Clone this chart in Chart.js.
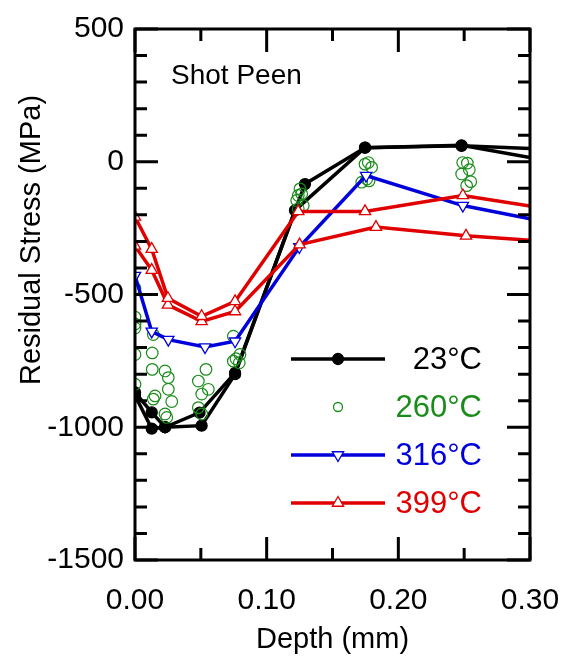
<!DOCTYPE html>
<html>
<head>
<meta charset="utf-8">
<script src="https://cdn.jsdelivr.net/npm/chart.js@4.4.1/dist/chart.umd.min.js"></script>
<style>
    html, body { margin: 0; padding: 0; background: #fff; }
    #wrap { width: 571px; height: 656px; }
</style>
</head>
<body>
<div id="wrap"><canvas id="stressChart" width="571" height="656"></canvas></div>
<script>
// ========== DATOS ==========
const xTicks = [0, 0.1, 0.2, 0.3];
const yTicks = [-1500, -1000, -500, 0, 500];

// 23°C (dos perfiles medidos)
const blackDepthA = [0, 0.0127, 0.0228, 0.049, 0.076, 0.1291, 0.1747, 0.248, 0.30];
const blackStressA = [-869, -944, -1000, -945, -795, -84, 53, 60, 50];
const blackDepthB = [0, 0.0127, 0.0228, 0.0506, 0.076, 0.1215, 0.1747, 0.248, 0.30];
const blackStressB = [-880, -1005, -1000, -994, -800, -183, 53, 62, 16];

// 260°C (solo puntos)
const greenDepth = [
    0, 0, 0, 0, 0, 0,
    0.0139, 0.0131, 0.0131, 0.0152, 0.0139,
    0.0228, 0.0253, 0.0253, 0.0279, 0.0228, 0.0241,
    0.0539, 0.0481, 0.0557, 0.0507, 0.0481, 0.0507,
    0.0747, 0.0797, 0.0747, 0.0792, 0.0767,
    0.1253, 0.124, 0.1266, 0.1228, 0.1278, 0.124,
    0.1772, 0.1797, 0.1747, 0.176, 0.1722, 0.1778,
    0.2489, 0.2524, 0.2539, 0.2481, 0.255, 0.2519,
];
const greenStress = [
    -477, -585, -611, -626, -726, -838,
    -651, -720, -782, -882, -894,
    -788, -813, -857, -903, -950, -963,
    -782, -826, -857, -875, -926, -950,
    -657, -726, -751, -757, -742,
    -102, -127, -121, -146, -165, -177,
    -3, -21, -9, -65, -77, -72,
    -3, -5, -30, -46, -75, -90,
];

// 316°C
const blueDepth = [0, 0.0127, 0.0253, 0.0532, 0.076, 0.1248, 0.1755, 0.249, 0.30];
const blueStress = [-429, -639, -670, -698, -676, -321, -52, -165, -215];

// 399°C (dos perfiles)
const redDepthA = [0, 0.0127, 0.025, 0.0506, 0.076, 0.124, 0.1747, 0.249, 0.30];
const redStressA = [-208, -329, -514, -582, -526, -187, -187, -127, -167];
const redDepthB = [0, 0.0127, 0.025, 0.0506, 0.076, 0.125, 0.183, 0.2514, 0.30];
const redStressB = [-317, -408, -539, -601, -564, -312, -246, -279, -296];

const labels = ["23°C", "260°C", "316°C", "399°C"];

// ========== ESTILO ==========
const BLACK = "#000000";
const GREEN = "#1a8c1a";
const BLUE = "#0000dc";
const RED = "#e00000";
const FONT = "'Liberation Sans', Arial, sans-serif";

function pts(xs, ys) {
    return xs.map((x, i) => ({ x: x, y: ys[i] }));
}
// sin marcador en el borde derecho (la curva sigue fuera del gráfico)
function edgeRadius(r) {
    return (c) => (c.raw && c.raw.x >= 0.3 ? 0 : r);
}

function lineSet(data, color, style, rot, fill, r, order) {
    return {
        data: data,
        showLine: true,
        borderColor: color,
        borderWidth: 3.5,
        pointStyle: style,
        rotation: rot,
        pointRadius: edgeRadius(r),
        pointBackgroundColor: fill,
        pointBorderColor: color,
        pointBorderWidth: 1.3,
        order: order,
    };
}

const datasets = [
    lineSet(pts(blackDepthA, blackStressA), BLACK, "circle", 0, BLACK, 5.5, 4),
    lineSet(pts(blackDepthB, blackStressB), BLACK, "circle", 0, BLACK, 5.5, 4),
    {
        data: pts(greenDepth, greenStress),
        showLine: false,
        pointStyle: "circle",
        pointRadius: 5.8,
        pointBackgroundColor: "rgba(0,0,0,0)",
        pointBorderColor: GREEN,
        pointBorderWidth: 1.2,
        order: 3,
    },
    lineSet(pts(blueDepth, blueStress), BLUE, "triangle", 180, "#ffffff", 6.5, 2),
    lineSet(pts(redDepthA, redStressA), RED, "triangle", 0, "#ffffff", 6.5, 1),
    lineSet(pts(redDepthB, redStressB), RED, "triangle", 0, "#ffffff", 6.5, 1),
];

// ========== MARCO, TICKS INTERIORES, TEXTOS Y LEYENDA ==========
function marker(ctx, style, x, y, r, rot, stroke, fill, lw) {
    ctx.save();
    ctx.translate(x, y);
    ctx.rotate(rot * Math.PI / 180);
    ctx.beginPath();
    if (style === "circle") {
        ctx.arc(0, 0, r, 0, Math.PI * 2);
    } else {
        for (let k = 0; k < 3; k++) {
            const a = k * 2 * Math.PI / 3;
            const px = Math.sin(a) * r;
            const py = -Math.cos(a) * r;
            if (k === 0) ctx.moveTo(px, py); else ctx.lineTo(px, py);
        }
        ctx.closePath();
    }
    if (fill) { ctx.fillStyle = fill; ctx.fill(); }
    ctx.lineWidth = lw;
    ctx.strokeStyle = stroke;
    ctx.stroke();
    ctx.restore();
}

const framePlugin = {
    id: "frame",
    afterDatasetsDraw(chart) {
        const ctx = chart.ctx;
        const a = chart.chartArea;
        const xs = chart.scales.x;
        const ys = chart.scales.y;
        ctx.save();
        ctx.strokeStyle = "#000";
        ctx.lineWidth = 3;
        ctx.strokeRect(a.left, a.top, a.right - a.left, a.bottom - a.top);
        ctx.beginPath();
        for (let v = -1500; v <= 500; v += 100) {
            const len = v % 500 === 0 ? 23 : 12;
            const py = ys.getPixelForValue(v);
            ctx.moveTo(a.left, py); ctx.lineTo(a.left + len, py);
            ctx.moveTo(a.right, py); ctx.lineTo(a.right - len, py);
        }
        for (let i = 0; i <= 6; i++) {
            const len = i % 2 === 0 ? 23 : 12;
            const px = xs.getPixelForValue(i * 0.05);
            ctx.moveTo(px, a.bottom); ctx.lineTo(px, a.bottom - len);
            ctx.moveTo(px, a.top); ctx.lineTo(px, a.top + len);
        }
        ctx.stroke();
        ctx.restore();
    },
    afterDraw(chart) {
        const ctx = chart.ctx;
        const a = chart.chartArea;
        ctx.save();
        ctx.fillStyle = "#000";
        ctx.font = "28px " + FONT;
        ctx.textBaseline = "alphabetic";
        ctx.textAlign = "left";
        ctx.fillText("Shot Peen", 171, 84);

        // títulos de ejes
        ctx.font = "29px " + FONT;
        ctx.textAlign = "center";
        ctx.fillText("Depth (mm)", (a.left + a.right) / 2, 648);
        ctx.save();
        ctx.translate(40, 240);
        ctx.rotate(-Math.PI / 2);
        ctx.fillText("Residual Stress (MPa)", 0, 0);
        ctx.restore();

        // leyenda
        const rows = [
            { y: 359, c: BLACK, line: true, s: "circle", rot: 0, f: BLACK, r: 5.5 },
            { y: 407, c: GREEN, line: false, s: "circle", rot: 0, f: null, r: 4.5 },
            { y: 455, c: BLUE, line: true, s: "triangle", rot: 180, f: "#fff", r: 6.5 },
            { y: 503, c: RED, line: true, s: "triangle", rot: 0, f: "#fff", r: 6.5 },
        ];
        ctx.font = "31px " + FONT;
        ctx.textAlign = "right";
        ctx.textBaseline = "middle";
        rows.forEach((row, i) => {
            if (row.line) {
                ctx.beginPath();
                ctx.strokeStyle = row.c;
                ctx.lineWidth = 3.5;
                ctx.moveTo(291, row.y);
                ctx.lineTo(385, row.y);
                ctx.stroke();
            }
            marker(ctx, row.s, 338, row.y, row.r, row.rot, row.c, row.f, 1.3);
            ctx.fillStyle = row.c;
            ctx.fillText(labels[i], 482, row.y + 1);
        });
        ctx.restore();
    },
};

// ========== GRÁFICO ==========
const ctx = document.getElementById("stressChart").getContext("2d");
new Chart(ctx, {
    type: "scatter",
    data: { datasets: datasets },
    plugins: [framePlugin],
    options: {
        responsive: false,
        animation: false,
        layout: { padding: { left: 10, right: 41, top: 26, bottom: 0 } },
        plugins: { legend: { display: false }, tooltip: { enabled: false } },
        scales: {
            x: {
                type: "linear",
                min: 0,
                max: 0.3,
                afterBuildTicks: (s) => { s.ticks = xTicks.map((v) => ({ value: v })); },
                afterFit: (s) => {
                    s.height = 96;
                    s.paddingLeft = 0;
                    s.paddingRight = 0;
                },
                grid: { display: false, drawTicks: false },
                border: { display: false },
                ticks: {
                    color: "#000",
                    padding: 23,
                    maxRotation: 0,
                    font: { family: FONT, size: 30 },
                    callback: (v) => Number(v).toFixed(2),
                },
            },
            y: {
                type: "linear",
                min: -1500,
                max: 500,
                afterBuildTicks: (s) => { s.ticks = yTicks.map((v) => ({ value: v })); },
                afterFit: (s) => { s.width = 125; },
                grid: { display: false, drawTicks: false },
                border: { display: false },
                ticks: {
                    color: "#000",
                    padding: 11,
                    font: { family: FONT, size: 30 },
                    callback: (v) => String(v),
                },
            },
        },
    },
});
</script>
</body>
</html>
